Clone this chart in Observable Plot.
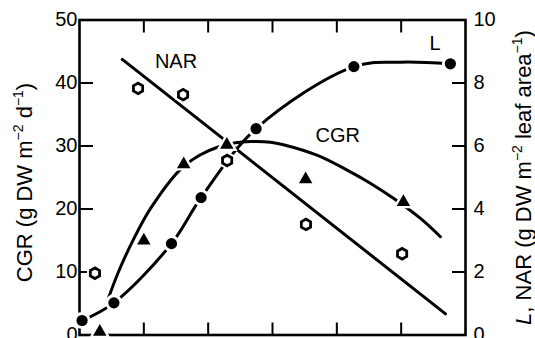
<!DOCTYPE html>
<html><head><meta charset="utf-8">
<script src="https://cdn.jsdelivr.net/npm/d3@7"></script>
<script src="https://cdn.jsdelivr.net/npm/@observablehq/plot@0.6"></script>
<style>
body{margin:0;background:#fff}
#chart{width:535px;height:338px;overflow:hidden}
</style>
</head><body><div id="chart"></div>
<script>
// tick values
const xTicks = [20, 40, 60, 80, 100];
const cgrTicks = [0, 10, 20, 30, 40, 50];
const rightTicks = [0, 2, 4, 6, 8, 10];
// L – filled circles (right axis)
const lDays = [0.8, 10.7, 28.6, 37.8, 54.9, 85.3, 115.3];
const lValues = [0.46, 1.02, 2.90, 4.36, 6.55, 8.52, 8.61];
// CGR – filled triangles (left axis)
const cgrDays = [6.3, 20.0, 32.4, 45.8, 70.3, 100.7];
const cgrValues = [0.5, 15.0, 27.1, 30.2, 24.7, 21.1];
// NAR – open hexagons (right axis)
const narDays = [4.8, 18.2, 32.2, 45.9, 70.4, 100.3];
const narValues = [1.96, 7.83, 7.63, 5.54, 3.51, 2.58];
// fitted curves
const cgrCurveDays = [9.1, 12.1, 16.9, 22.1, 31.4, 37.6, 42.9, 48.5, 53.2, 59.4, 63.4, 74.0, 84.2, 90.4, 97.6, 106.0, 112.2];
const cgrCurveValues = [6.0, 10.0, 15.3, 20.1, 26.3, 28.6, 29.8, 30.5, 30.7, 30.6, 30.2, 28.5, 25.9, 24.1, 21.7, 18.5, 15.6];
const lCurveDays = [0.8, 10.7, 28.6, 37.8, 54.9, 85.3, 99.8, 115.3];
const lCurveValues = [0.46, 1.02, 2.90, 4.36, 6.55, 8.52, 8.66, 8.61];
const narLineDays = [13.3, 113.8];
const narLineValues = [8.75, 0.67];
// series labels
const labelTexts = ["NAR", "CGR", "L"];

const k = 5; // right axis (0–10) mapped onto left axis (0–50)
const zip = (xs, ys, f = 1) => xs.map((x, i) => ({x, y: ys[i] * f}));

const lPts = zip(lDays, lValues, k);
const cgrPts = zip(cgrDays, cgrValues);
const narPts = zip(narDays, narValues, k);
const cgrCurve = zip(cgrCurveDays, cgrCurveValues);
const lCurve = zip(lCurveDays, lCurveValues, k);
const narLine = zip(narLineDays, narLineValues, k);
const labels = [
  {x: 30.0, y: 8.67 * k, t: labelTexts[0], s: "normal"},
  {x: 80.3, y: 31.7, t: labelTexts[1], s: "normal"},
  {x: 110.5, y: 9.25 * k, t: labelTexts[2], s: "italic"}
];

const font = "'Liberation Sans', Arial, Helvetica, sans-serif";
const chart = Plot.plot({
  width: 535, height: 338,
  marginLeft: 79, marginRight: 70, marginTop: 19.5, marginBottom: 3.5,
  style: {fontFamily: font, fontSize: "20px", color: "black", background: "white"},
  x: {domain: [0, 120]},
  y: {domain: [0, 50]},
  marks: [
    Plot.frame({strokeWidth: 2.6}),
    Plot.axisX({anchor: "bottom", ticks: xTicks, tickSize: 12, dy: -12, tickFormat: () => "", label: null, strokeWidth: 2}),
    Plot.axisX({anchor: "top", ticks: xTicks, tickSize: 12, dy: 12, tickFormat: () => "", label: null, strokeWidth: 2}),
    Plot.axisY({anchor: "left", ticks: cgrTicks, tickSize: 14, dx: 14, tickFormat: () => "", label: null, strokeWidth: 2}),
    Plot.axisY({anchor: "right", ticks: rightTicks.map(v => v * k), tickSize: 14, dx: -14, tickFormat: () => "", label: null, strokeWidth: 2}),
    Plot.axisY({anchor: "left", ticks: cgrTicks, tickSize: 0, tickPadding: 2, label: null}),
    Plot.axisY({anchor: "right", ticks: rightTicks.map(v => v * k), tickSize: 0, tickPadding: 8, tickFormat: d => d / k, label: null}),
    Plot.line(cgrCurve, {x: "x", y: "y", curve: "catmull-rom", strokeWidth: 3}),
    Plot.line(lCurve, {x: "x", y: "y", curve: "catmull-rom", strokeWidth: 3}),
    Plot.line(narLine, {x: "x", y: "y", strokeWidth: 3}),
    // white halos
    Plot.dot(lPts, {x: "x", y: "y", r: 8.5, fill: "white"}),
    Plot.dot(cgrPts, {x: "x", y: "y", r: 8, symbol: "triangle", fill: "white"}),
    Plot.dot(narPts, {x: "x", y: "y", r: 8, symbol: "hexagon", fill: "white"}),
    // markers
    Plot.dot(lPts, {x: "x", y: "y", r: 5.6, fill: "black"}),
    Plot.dot(cgrPts, {x: "x", y: "y", r: 5, symbol: "triangle", fill: "black"}),
    Plot.dot(narPts, {x: "x", y: "y", r: 4.6, symbol: "hexagon", fill: "white", stroke: "black", strokeWidth: 2.8}),
    Plot.text(labels, {x: "x", y: "y", text: "t", fontStyle: "s", fontSize: 20, fill: "black"})
  ]
});
document.getElementById("chart").append(chart);

const svg = d3.select(chart);
function rotLabel(x, y, parts) {
  const t = svg.append("text")
    .attr("transform", `translate(${x},${y}) rotate(-90)`)
    .attr("text-anchor", "middle")
    .attr("fill", "black")
    .style("font-family", font)
    .style("font-size", "22px");
  let raised = false;
  parts.forEach(p => {
    const ts = t.append("tspan").text(p.t);
    if (p.italic) ts.style("font-style", "italic");
    if (p.sup) { ts.style("font-size", "14px").attr("dy", -9); raised = true; }
    else if (raised) { ts.attr("dy", 9); raised = false; }
  });
}
rotLabel(31.5, 182.5, [{t: "CGR (g DW m"}, {t: "\u22122", sup: true}, {t: " d"}, {t: "\u22121", sup: true}, {t: ")"}]);
rotLabel(531, 177.5, [{t: "L", italic: true}, {t: ", NAR (g DW m"}, {t: "\u22122", sup: true}, {t: " leaf area"}, {t: "\u22121", sup: true}, {t: ")"}]);
</script>
</body></html>
